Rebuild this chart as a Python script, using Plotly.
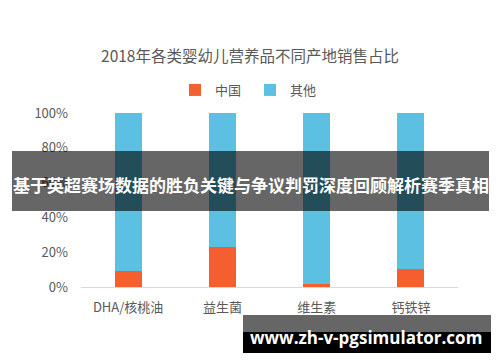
import plotly.graph_objects as go

categories = ["DHA/核桃油", "益生菌", "维生素", "钙铁锌"]
china = [0.09, 0.23, 0.02, 0.105]
other = [0.91, 0.77, 0.98, 0.895]
tick_vals = [0, 0.2, 0.4, 0.6, 0.8, 1.0]
tick_text = ["0%", "20%", "40%", "60%", "80%", "100%"]
title_text = "2018年各类婴幼儿营养品不同产地销售占比"
banner_text = "基于英超赛场数据的胜负关键与争议判罚深度回顾解析赛季真相"
watermark_text = "www.zh-v-pgsimulator.com"

W, H = 500, 362
L, R, T, B = 81, 458, 113, 287  # plot area in pixels


def px(x):
    return (x - L) / (R - L)


def py(y):
    return (B - y) / (B - T)


CJK = "Noto Sans CJK SC"
GRAY = "#595959"

fig = go.Figure()
fig.add_trace(go.Bar(name="中国", x=categories, y=china, marker_color="#F55E2F",
                     marker_line_width=0))
fig.add_trace(go.Bar(name="其他", x=categories, y=other, marker_color="#5BC0E1",
                     marker_line_width=0))

fig.update_layout(
    width=W, height=H,
    margin=dict(l=L, r=W - R, t=T, b=H - B, pad=0),
    barmode="stack",
    bargap=0.714,
    plot_bgcolor="white",
    paper_bgcolor="white",
    font=dict(family=CJK, color=GRAY, size=13),
    title=dict(text=title_text, x=0.5, xref="container", xanchor="center",
               y=1 - 57 / H, yref="container", yanchor="middle",
               font=dict(family=CJK, size=15.5, color=GRAY)),
    showlegend=True,
    legend=dict(orientation="h", traceorder="normal", x=px(250), xanchor="center",
                y=py(90), yanchor="middle",
                font=dict(family=CJK, size=13, color=GRAY), itemwidth=30,
                entrywidth=30, entrywidthmode="pixels",
                tracegroupgap=0, bgcolor="rgba(0,0,0,0)"),
    xaxis=dict(showgrid=False, showline=True, linecolor="#D9D9D9", linewidth=1,
               ticks="", ticklabelstandoff=8, tickfont=dict(family=CJK, size=13, color=GRAY)),
    yaxis=dict(range=[0, 1.0], showgrid=False, zeroline=False, showline=False,
               tickvals=tick_vals, ticktext=tick_text, ticks="", ticklabelstandoff=12,
               tickfont=dict(family=CJK, size=13, color=GRAY)),
)

shapes = [
    dict(type="rect", xref="paper", yref="paper", x0=px(12), x1=px(489), y0=py(151), y1=py(211),
         fillcolor="rgba(0,0,0,0.6)", line_width=0, layer="above"),
    dict(type="rect", xref="paper", yref="paper", x0=px(243), x1=px(491), y0=py(315), y1=py(332),
         fillcolor="rgba(0,0,0,0.6)", line_width=0, layer="above"),
    dict(type="rect", xref="paper", yref="paper", x0=px(243), x1=px(491), y0=py(332), y1=py(353),
         fillcolor="#000000", line_width=0, layer="above"),
]
fig.update_layout(shapes=shapes)

fig.add_annotation(text="<b>" + banner_text + "</b>", xref="paper", yref="paper",
                   x=px(250.5), y=py(184), xanchor="center", yanchor="middle", showarrow=False,
                   font=dict(family=CJK, size=17, color="white"))
fig.add_annotation(text="<b>" + watermark_text + "</b>", xref="paper", yref="paper",
                   x=px(366), y=py(337), xanchor="center", yanchor="middle", showarrow=False,
                   font=dict(family="Open Sans", size=17, color="white"))

fig.write_html("out.html")
